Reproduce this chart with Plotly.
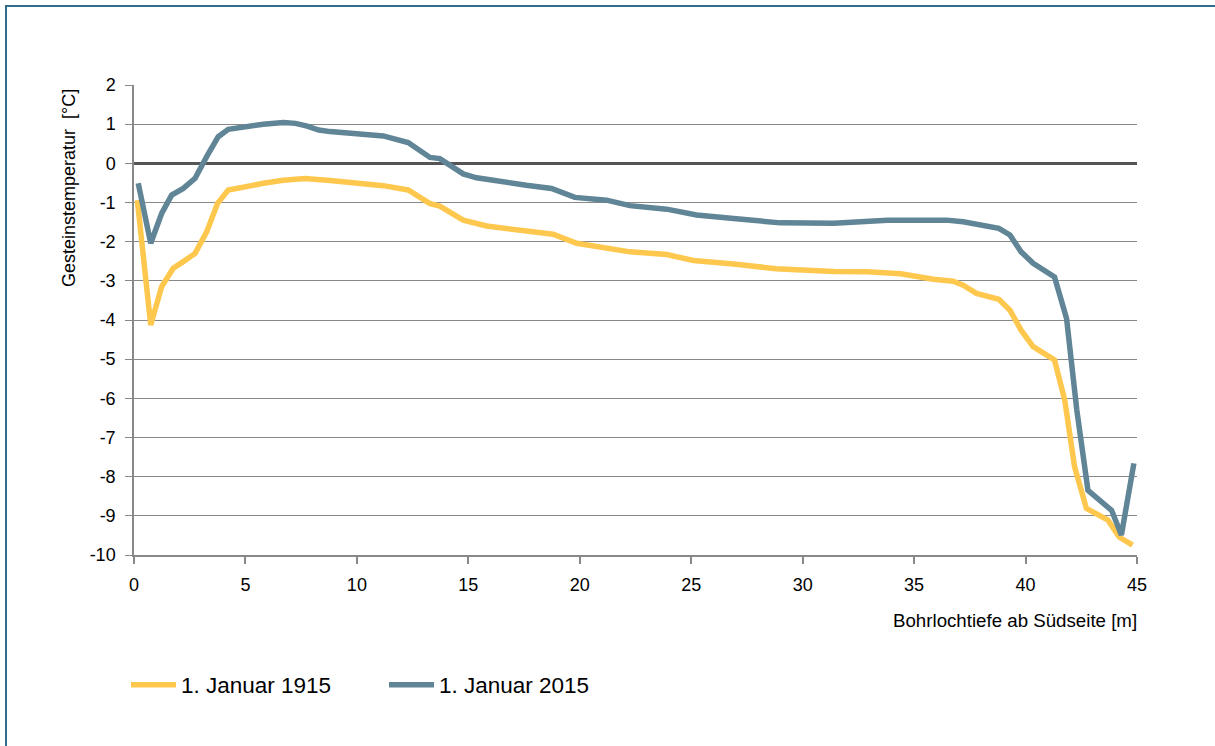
import plotly.graph_objects as go

# Data
depth_1915 = [0.15, 0.75, 1.24, 1.76, 2.21, 2.74, 3.26, 3.75, 4.23, 5.05, 5.8, 6.7, 7.67, 8.8,
              9.84, 11.18, 12.3, 13.28, 13.72, 14.77, 15.82, 17.3, 18.8, 19.86, 21.2, 22.25,
              23.9, 25.1, 26.9, 28.8, 31.4, 32.9, 34.4, 35.86, 36.75, 37.2, 37.8, 38.8, 39.3,
              39.8, 40.34, 41.3, 41.76, 42.2, 42.73, 43.7, 44.2, 44.8]
temp_1915 = [-0.94, -4.13, -3.15, -2.68, -2.51, -2.3, -1.75, -1.02, -0.68, -0.58, -0.51, -0.43,
             -0.39, -0.44, -0.50, -0.57, -0.68, -1.03, -1.09, -1.45, -1.6, -1.70, -1.81, -2.04,
             -2.15, -2.26, -2.33, -2.48, -2.57, -2.69, -2.76, -2.77, -2.82, -2.96, -3.01, -3.11,
             -3.32, -3.47, -3.75, -4.26, -4.68, -5.02, -6.05, -7.75, -8.81, -9.11, -9.54, -9.75]

depth_2015 = [0.19, 0.75, 1.24, 1.69, 2.21, 2.74, 3.26, 3.78, 4.23, 5.05, 5.8, 6.7, 7.25, 7.77,
              8.29, 8.8, 10.0, 11.18, 12.3, 13.28, 13.72, 14.77, 15.37, 16.42, 17.6, 18.73,
              19.78, 21.2, 22.25, 23.9, 25.24, 26.9, 29.0, 31.4, 32.7, 33.8, 35.0, 36.45, 37.2,
              37.8, 38.8, 39.3, 39.8, 40.34, 41.3, 41.84, 42.3, 42.8, 43.86, 44.3, 44.86]
temp_2015 = [-0.51, -2.04, -1.28, -0.81, -0.64, -0.38, 0.17, 0.68, 0.87, 0.95, 1.0, 1.04, 1.02,
             0.95, 0.85, 0.81, 0.77, 0.70, 0.53, 0.15, 0.12, -0.27, -0.37, -0.47, -0.56, -0.64,
             -0.87, -0.94, -1.08, -1.17, -1.32, -1.41, -1.52, -1.53, -1.49, -1.45, -1.45, -1.45,
             -1.49, -1.55, -1.66, -1.83, -2.26, -2.55, -2.9, -3.96, -6.3, -8.35, -8.86, -9.49, -7.66]

name_1915 = "1. Januar 1915"
name_2015 = "1. Januar 2015"
x_ticks = [0, 5, 10, 15, 20, 25, 30, 35, 40, 45]
y_ticks = [2, 1, 0, -1, -2, -3, -4, -5, -6, -7, -8, -9, -10]
y_tick_labels = ["2", "1", "0", "-1", "-2", "-3", "-4", "-5", "-6", "-7", "-8", "-9", "-10"]

FONT = "Liberation Sans, Arial, sans-serif"
GRID = "#888888"

fig = go.Figure()
fig.add_trace(go.Scatter(x=depth_1915, y=temp_1915, mode="lines", name=name_1915,
                         line=dict(color="#FEC84E", width=5.5)))
fig.add_trace(go.Scatter(x=depth_2015, y=temp_2015, mode="lines", name=name_2015,
                         line=dict(color="#5F8596", width=5.5)))

W, H = 1215, 746
L, R, T, B = 134, 78, 85, 191
pw, ph = W - L - R, H - T - B

def px(xp):
    return (xp - L) / pw

def py(yp):
    return (H - B - yp) / ph

fig.update_layout(
    width=W, height=H,
    margin=dict(l=L, r=R, t=T, b=B),
    paper_bgcolor="white", plot_bgcolor="white",
    font=dict(family=FONT, color="#000000", size=18),
    showlegend=True,
    legend=dict(orientation="h", x=px(126), y=py(685), xanchor="left", yanchor="middle",
                font=dict(size=22.5, family=FONT), itemwidth=45,
                entrywidth=198, entrywidthmode="pixels",
                bgcolor="rgba(0,0,0,0)"),
    xaxis=dict(range=[0, 45], tickvals=x_ticks, showgrid=False, zeroline=False,
               showline=True, linecolor=GRID, linewidth=1.5, ticks="outside", ticklen=7,
               tickcolor=GRID, tickwidth=1.5, tickfont=dict(size=18), ticklabelstandoff=6),
    yaxis=dict(range=[-10, 2], tickvals=y_ticks, ticktext=y_tick_labels,
               showgrid=True, gridcolor=GRID, gridwidth=1.3,
               zeroline=True, zerolinecolor="#555555", zerolinewidth=2.5,
               showline=True, linecolor=GRID, linewidth=1.5, ticks="outside", ticklen=7,
               tickcolor=GRID, tickwidth=1.3, tickfont=dict(size=18), ticklabelstandoff=6),
    annotations=[
        dict(text="Gesteinstemperatur  [°C]", xref="paper", yref="paper",
             x=px(69), y=py(188), xanchor="center", yanchor="middle", textangle=-90,
             showarrow=False, font=dict(size=18, family=FONT)),
        dict(text="Bohrlochtiefe ab Südseite [m]", xref="paper", yref="paper",
             x=px(1139), y=py(620), xanchor="right", yanchor="middle",
             showarrow=False, font=dict(size=18.7, family=FONT)),
    ],
    shapes=[
        dict(type="rect", xref="paper", yref="paper", x0=px(6), y0=py(770), x1=px(1240), y1=py(6),
             line=dict(color="#2F6F8C", width=2), fillcolor="rgba(0,0,0,0)", layer="below"),
    ],
)

fig.write_html("out.html", config={"displayModeBar": False},
               post_script="document.body.style.margin='0';document.body.style.overflow='hidden';")
